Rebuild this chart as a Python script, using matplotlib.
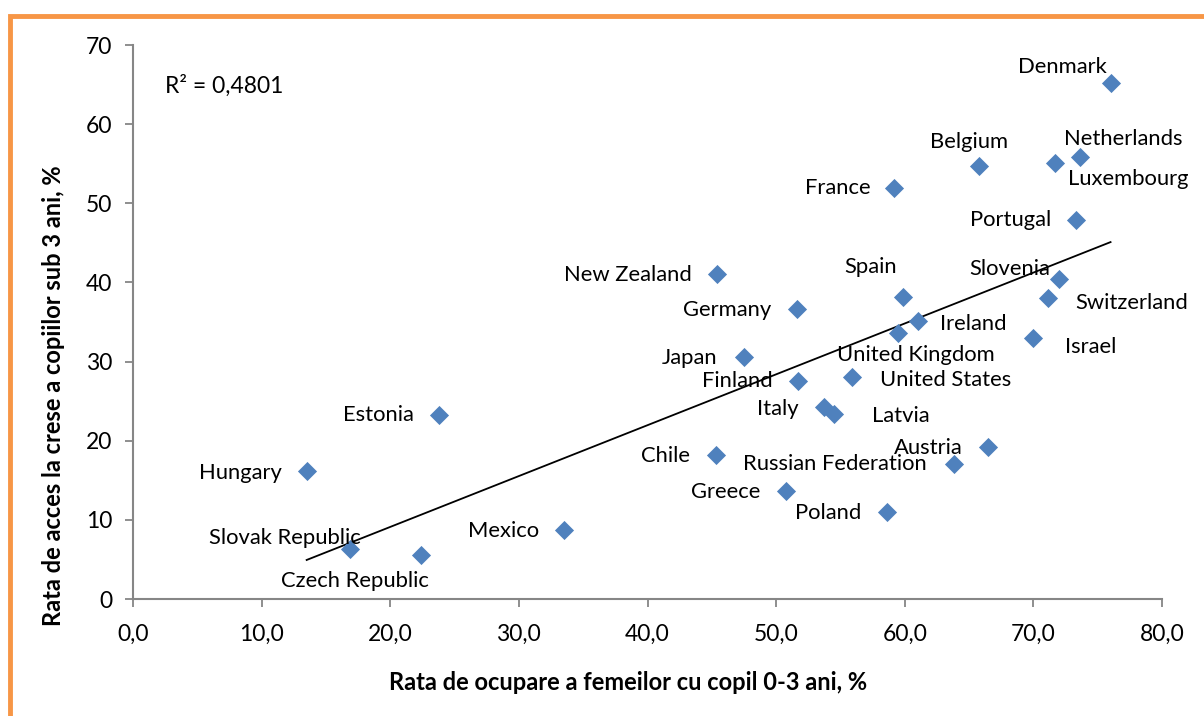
import numpy as np
import matplotlib
matplotlib.use("Agg")
import matplotlib.pyplot as plt
from matplotlib.patches import Rectangle

# data
countries = ["Denmark", "Belgium", "Netherlands", "Luxembourg", "France", "Portugal",
             "New Zealand", "Spain", "Slovenia", "Switzerland", "Germany", "Ireland",
             "United Kingdom", "Israel", "Japan", "Finland", "United States", "Italy",
             "Latvia", "Estonia", "Hungary", "Chile", "Austria", "Russian Federation",
             "Greece", "Poland", "Mexico", "Slovak Republic", "Czech Republic"]
employment = [76.0, 65.8, 73.6, 71.7, 59.2, 73.3,
              45.4, 59.9, 72.0, 71.1, 51.6, 61.0,
              59.5, 70.0, 47.5, 51.7, 55.9, 53.7,
              54.5, 23.8, 13.5, 45.3, 66.5, 63.8,
              50.8, 58.6, 33.5, 16.9, 22.4]
childcare = [65.2, 54.7, 55.8, 55.1, 51.9, 47.9,
             41.1, 38.2, 40.4, 38.0, 36.6, 35.1,
             33.6, 33.0, 30.6, 27.5, 28.0, 24.2,
             23.4, 23.2, 16.2, 18.2, 19.2, 17.1,
             13.6, 11.0, 8.7, 6.3, 5.6]
r2_text = "R² = 0,4801"

# label offsets in pixels (dx, dy) from the marker
label_offsets = {
    "Denmark": (-48, 16), "Belgium": (-10, 24), "Netherlands": (44, 18),
    "Luxembourg": (73, -16), "France": (-57, 0), "Portugal": (-65, 0),
    "New Zealand": (-89, -1), "Spain": (-33, 30), "Slovenia": (-49, 10),
    "Switzerland": (84, -5), "Germany": (-70, -1), "Ireland": (56, -3),
    "United Kingdom": (18, -22), "Israel": (57, -9), "Japan": (-54, -1),
    "Finland": (-61, 0), "United States": (94, -3), "Italy": (-46, -2),
    "Latvia": (67, -2), "Estonia": (-61, 0), "Hungary": (-66, -2),
    "Chile": (-50, -1), "Austria": (-60, -1), "Russian Federation": (-119, 0),
    "Greece": (-61, -1), "Poland": (-59, -1), "Mexico": (-60, -1),
    "Slovak Republic": (-66, 11), "Czech Republic": (-66, -26),
}

plt.rcParams['font.family'] = ['Lato', 'DejaVu Sans']

fig = plt.figure(figsize=(12.04, 7.16), dpi=100)
ax = fig.add_axes([133 / 1204, 117 / 716, 1029 / 1204, 554 / 716])

x = np.array(employment)
y = np.array(childcare)

# linear trendline
k, b = np.polyfit(x, y, 1)
xs = np.array([x.min(), x.max()])
ax.plot(xs, k * xs + b, color="black", lw=1.3, zorder=2)

ax.scatter(x, y, marker="D", s=95, color="#4F81BD", zorder=3, linewidths=0)

for name, xi, yi in zip(countries, x, y):
    dx, dy = label_offsets[name]
    ax.annotate(name, (xi, yi), xytext=(dx, dy), textcoords="offset pixels",
                ha="center", va="center", fontsize=15.8, color="black", zorder=4)

ax.text(2.5, 64.8, r2_text, ha="left", va="center", fontsize=16.5)

ax.set_xlim(0, 80)
ax.set_ylim(0, 70)
ax.set_xticks(np.arange(0, 81, 10))
ax.set_xticklabels([f"{v:.1f}".replace(".", ",") for v in np.arange(0, 81, 10)])
ax.set_yticks(np.arange(0, 71, 10))

for s in ["top", "right"]:
    ax.spines[s].set_visible(False)
for s in ["left", "bottom"]:
    ax.spines[s].set_color("#868686")
    ax.spines[s].set_linewidth(1.5)
ax.tick_params(axis="both", direction="out", length=6, width=1.3, color="#868686",
               labelsize=16.5)
ax.tick_params(axis="y", pad=9)
ax.tick_params(axis="x", pad=12)

fig.text(628 / 1204, 1 - 683 / 716, "Rata de ocupare a femeilor cu copil 0-3 ani, %",
         ha="center", va="center", fontsize=17, fontweight="bold")
fig.text(54 / 1204, 1 - 396 / 716, "Rata de acces la crese a copiilor sub 3 ani, %",
         ha="center", va="center", rotation=90, fontsize=17, fontweight="bold")

# orange frame around the chart
fig.patches.append(Rectangle((10 / 1204, -0.1), 1.2, 1.1 - 16 / 716, transform=fig.transFigure,
                             fill=False, edgecolor="#F79646", lw=3.5, zorder=0))

fig.savefig("out.png", dpi=100)
